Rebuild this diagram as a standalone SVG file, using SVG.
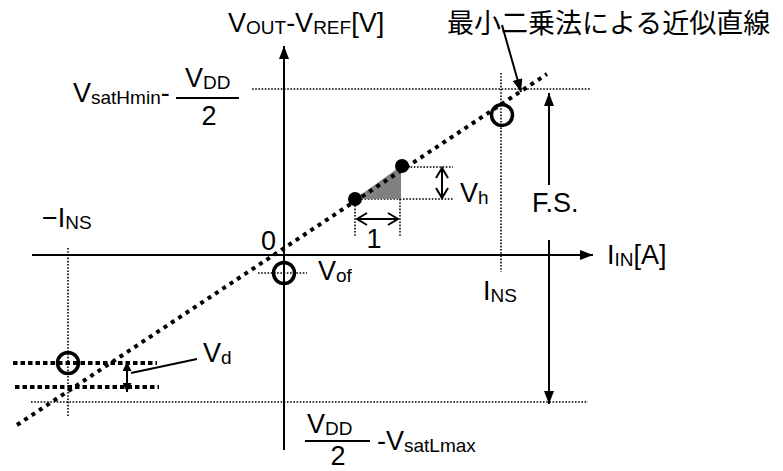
<svg xmlns="http://www.w3.org/2000/svg" width="783" height="471" viewBox="0 0 783 471">
<style>
text{font-family:"Liberation Sans",Arial,"Noto Sans CJK JP",sans-serif;font-size:27px;fill:#000}
.sub{font-size:19px}
.jp{font-family:"Noto Sans CJK JP","Liberation Sans",sans-serif;font-size:27px}
.ax{stroke:#000;stroke-width:2;fill:none}
.dot{stroke:#000;stroke-width:1.6;stroke-dasharray:1.6 1.6;fill:none}
.fit{stroke:#000;stroke-width:4;stroke-dasharray:4 4.8;fill:none}
.dash{stroke:#000;stroke-width:4;stroke-dasharray:4.5 3;fill:none}
.oc{stroke:#000;stroke-width:3.5;fill:#fff;fill-opacity:0}
</style>
<defs>
<marker id="ah" markerUnits="userSpaceOnUse" markerWidth="14" markerHeight="10" refX="13" refY="5" orient="auto-start-reverse"><path d="M0,0 L13,5 L0,10 z" fill="#000"/></marker>
<marker id="ahs" markerUnits="userSpaceOnUse" markerWidth="10" markerHeight="9" refX="9" refY="4.5" orient="auto-start-reverse"><path d="M0,0 L9,4.5 L0,9 z" fill="#000"/></marker>
<marker id="ch" markerUnits="userSpaceOnUse" markerWidth="14" markerHeight="14" refX="11" refY="7" orient="auto-start-reverse"><path d="M1,1 L11,7 L1,13" fill="none" stroke="#000" stroke-width="2"/></marker>
</defs>

<g id="guides">
<line class="dot" x1="252" y1="89" x2="591" y2="89"/>
<line class="dot" x1="31" y1="402" x2="588" y2="402"/>
<line class="dot" x1="501" y1="73" x2="501" y2="272"/>
<line class="dot" x1="68" y1="248" x2="68" y2="417"/>
<line class="dot" x1="258" y1="273" x2="307" y2="273"/>
<line class="dot" x1="355" y1="199" x2="453" y2="199"/>
<line class="dot" x1="401" y1="167" x2="453" y2="167"/>
<line class="dot" x1="355" y1="199" x2="355" y2="237"/>
<line class="dot" x1="400" y1="167" x2="400" y2="237"/>
<line class="dash" x1="13" y1="363" x2="157" y2="363"/>
<line class="dash" x1="15" y1="387" x2="159" y2="387"/>
</g>

<g id="axes">
<line class="ax" x1="284" y1="450" x2="284" y2="46" marker-end="url(#ah)"/>
<line class="ax" x1="32" y1="255" x2="593" y2="255" marker-end="url(#ah)"/>
</g>

<g id="fit-line">
<polygon points="355,199 401,166 401,199" fill="#808080"/>
<line class="fit" x1="17" y1="425" x2="547" y2="74"/>
</g>

<g id="points">
<circle cx="355" cy="199" r="7" fill="#000"/>
<circle cx="402" cy="166" r="7" fill="#000"/>
<circle class="oc" cx="502" cy="115" r="10.5"/>
<circle class="oc" cx="284" cy="273" r="10.5"/>
<circle class="oc" cx="68" cy="363" r="10.5"/>
</g>

<g id="connectors">
<line class="ax" x1="502" y1="25" x2="521" y2="92" marker-end="url(#ah)"/>
<line class="ax" x1="549" y1="185" x2="549" y2="93" marker-end="url(#ah)"/>
<line class="ax" x1="549" y1="240" x2="549" y2="404" marker-end="url(#ah)"/>
<line class="ax" x1="127" y1="362" x2="127" y2="392" marker-start="url(#ahs)" marker-end="url(#ahs)"/>
<line class="ax" x1="131" y1="373" x2="197" y2="359" stroke-width="1.6"/>
<line class="ax" x1="357" y1="219" x2="398" y2="219" marker-start="url(#ch)" marker-end="url(#ch)"/>
<line class="ax" x1="442" y1="168" x2="442" y2="198" marker-start="url(#ch)" marker-end="url(#ch)"/>
<line class="ax" x1="176" y1="98" x2="239" y2="98"/>
<line class="ax" x1="305" y1="441" x2="370" y2="441"/>
</g>

<g id="labels">
<text x="228" y="32">V<tspan class="sub" dy="2">OUT</tspan><tspan dy="-2">-V</tspan><tspan class="sub" dy="2">REF</tspan><tspan dy="-2">[V]</tspan></text>
<text class="jp" x="447" y="33">最小二乗法による近似直線</text>
<text x="73" y="102">V<tspan class="sub" dy="2">satHmin</tspan><tspan dy="-2">-</tspan></text>
<text x="185" y="87">V<tspan class="sub" dy="2">DD</tspan></text>
<text x="209" y="125" text-anchor="middle">2</text>
<text x="307" y="433">V<tspan class="sub" dy="2">DD</tspan></text>
<text x="338" y="465" text-anchor="middle">2</text>
<text x="377" y="450">-V<tspan class="sub" dy="2">satLmax</tspan></text>
<text x="532" y="212">F.S.</text>
<text x="460" y="202">V<tspan class="sub" dy="2">h</tspan></text>
<text x="374" y="248" text-anchor="middle">1</text>
<text x="261" y="250">0</text>
<text x="318" y="280">V<tspan class="sub" dy="2">of</tspan></text>
<text x="483" y="300">I<tspan class="sub" dy="2">NS</tspan></text>
<text x="607" y="264">I<tspan class="sub" dy="2">IN</tspan><tspan dy="-2">[A]</tspan></text>
<text x="42" y="227">−I<tspan class="sub" dy="2">NS</tspan></text>
<text x="203" y="362">V<tspan class="sub" dy="2">d</tspan></text>
</g>
</svg>
